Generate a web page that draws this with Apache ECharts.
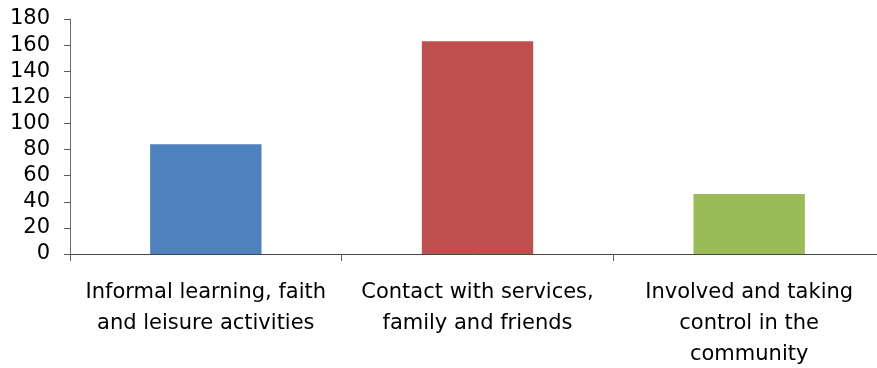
<!DOCTYPE html>
<html>
<head>
<meta charset="utf-8">
<script src="https://cdn.jsdelivr.net/npm/echarts@6/dist/echarts.min.js"></script>
<style>
  html, body { margin: 0; padding: 0; background: #ffffff; }
  #chart { width: 877px; height: 368px; }
</style>
</head>
<body>
<div id="chart"></div>
<script>
// Activity areas (line breaks are part of the axis labels)
var categories = [
  'Informal learning, faith\nand leisure activities',
  'Contact with services,\nfamily and friends',
  'Involved and taking\ncontrol in the\ncommunity'
];
var values = [84, 163, 46];
var barColors = ['#4F81BD', '#C0504D', '#9BBB59'];
var yTicks = { min: 0, max: 180, interval: 20 };

var font = 'DejaVu Sans';

var chart = echarts.init(document.getElementById('chart'), null, { renderer: 'canvas' });
chart.setOption({
  animation: false,
  backgroundColor: '#ffffff',
  grid: {
    left: 70,
    right: -8,
    top: 19,
    bottom: 114,
    containLabel: false,
    outerBoundsMode: 'none'
  },
  xAxis: {
    type: 'category',
    data: categories,
    boundaryGap: true,
    axisLine: { show: true, lineStyle: { color: '#454545', width: 1 } },
    axisTick: { show: true, alignWithLabel: false, length: 7, lineStyle: { color: '#5a5a5a' } },
    axisLabel: {
      interval: 0,
      margin: 23,
      color: '#000000',
      fontFamily: font,
      fontSize: 21,
      lineHeight: 31,
      align: 'center'
    },
    splitLine: { show: false }
  },
  yAxis: {
    type: 'value',
    min: yTicks.min,
    max: yTicks.max,
    interval: yTicks.interval,
    axisLine: { show: true, lineStyle: { color: '#6a6a6a', width: 1 } },
    axisTick: { show: true, length: 6, lineStyle: { color: '#5a5a5a' } },
    axisLabel: {
      margin: 20,
      color: '#000000',
      fontFamily: font,
      fontSize: 21
    },
    splitLine: { show: false }
  },
  series: [{
    type: 'bar',
    barWidth: '41%',
    data: values.map(function (v, i) {
      return { value: v, itemStyle: { color: barColors[i] } };
    })
  }]
});
</script>
</body>
</html>
